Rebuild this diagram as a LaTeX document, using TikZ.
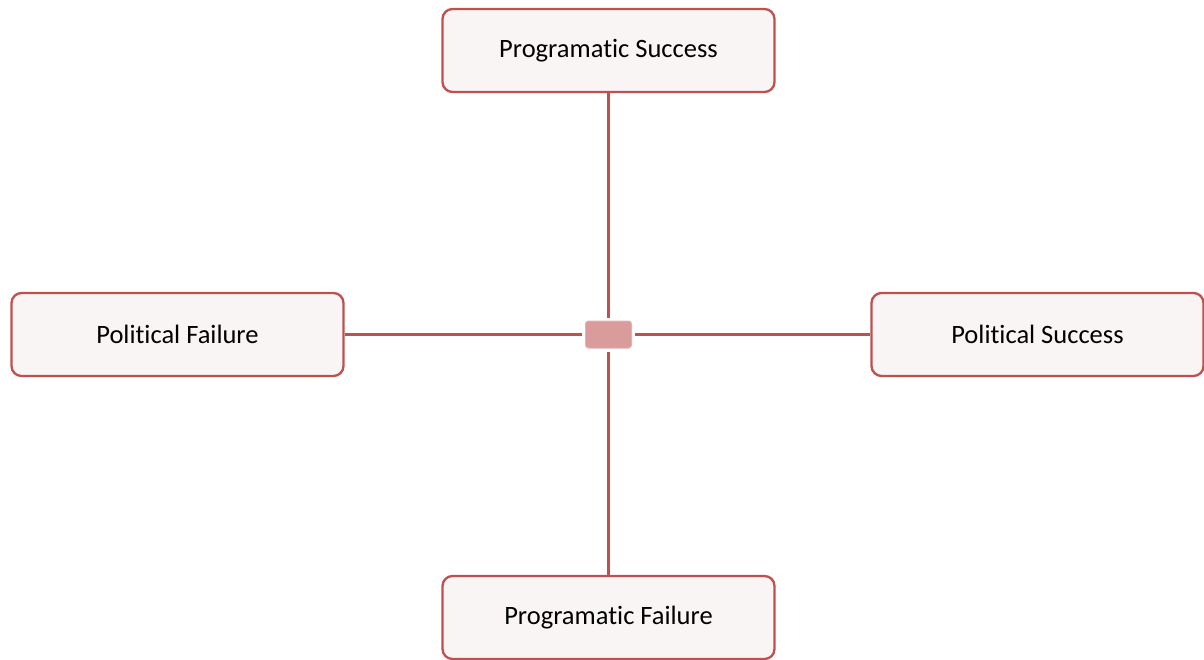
\documentclass[tikz,border=0pt]{standalone}
\usepackage{fontspec}
\setmainfont[Ligatures={NoCommon}]{Carlito}
\definecolor{edgered}{HTML}{C0504D}
\definecolor{boxfill}{HTML}{F9F5F4}
\definecolor{hubfill}{HTML}{DA9B9B}
\definecolor{hubline}{HTML}{E6B0B0}
\begin{document}
\begin{tikzpicture}[x=1pt,y=-1pt,
  outcome/.style={draw=edgered, line width=2.3pt, fill=boxfill, rounded corners=10pt,
    minimum width=332pt, minimum height=83pt, inner sep=0pt, font=\fontsize{26.5}{31}\selectfont},
  hub/.style={draw=hubline, line width=1pt, fill=hubfill, rounded corners=3pt,
    minimum width=46pt, minimum height=27pt, inner sep=0pt},
  link/.style={draw=edgered, line width=3.5pt}]
  \useasboundingbox (0,0) rectangle (1204,660);
  \node[hub] (c) at (608.5,334.5) {};
  \node[outcome] (ps) at (608.5,50.5) {Programatic Success};
  \node[outcome] (pf) at (608.5,617.5) {Programatic Failure};
  \node[outcome] (lf) at (177.5,334.5) {Political Failure};
  \node[outcome] (ls) at (1037.5,334.5) {Political Success};
  % spokes from each outcome to the central hub, stopping just short of it
  \draw[link, shorten >=3pt] (ps) -- (c);
  \draw[link, shorten >=3pt] (pf) -- (c);
  \draw[link, shorten >=3pt] (lf) -- (c);
  \draw[link, shorten >=3pt] (ls) -- (c);
\end{tikzpicture}
\end{document}
